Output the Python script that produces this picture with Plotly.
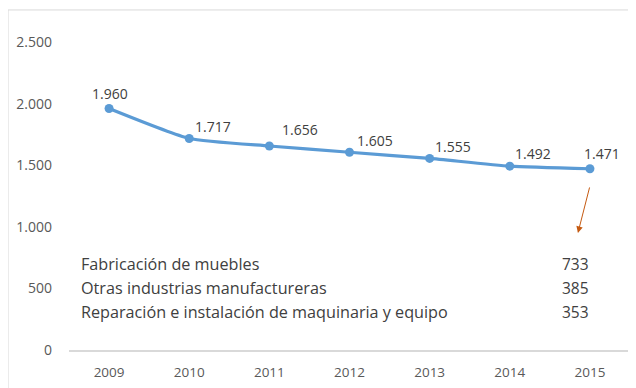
import plotly.graph_objects as go

years = ["2009", "2010", "2011", "2012", "2013", "2014", "2015"]
values = [1960, 1717, 1656, 1605, 1555, 1492, 1471]
value_labels = ["1.960", "1.717", "1.656", "1.605", "1.555", "1.492", "1.471"]
label_xshift = [1, 24, 31, 25, 23, 23, 12]
label_yshift = [15, 12, 16, 12, 12, 13, 15]

sub_names = ["Fabricación de muebles", "Otras industrias manufactureras",
             "Reparación e instalación de maquinaria y equipo"]
sub_values = ["733", "385", "353"]
sub_y = [700, 505, 310]

FONT = "Open Sans"
TXT = "#404040"

fig = go.Figure()
fig.add_trace(go.Scatter(
    x=years, y=values, mode="lines+markers",
    line=dict(color="#5b9bd5", width=3.2, shape="spline", smoothing=0.5),
    marker=dict(color="#5b9bd5", size=9),
    hoverinfo="skip", showlegend=False,
))

for i, (y, t, xs, ys) in enumerate(zip(values, value_labels, label_xshift, label_yshift)):
    fig.add_annotation(x=i, y=y, text=t, showarrow=False, xanchor="center",
                       yanchor="middle", xshift=xs, yshift=ys,
                       font=dict(family=FONT, size=14, color=TXT))

last = len(years) - 1
for name, val, yy in zip(sub_names, sub_values, sub_y):
    fig.add_annotation(x=-0.5, y=yy, xref="x", yref="y", text=name, showarrow=False,
                       xanchor="left", yanchor="middle", xshift=10,
                       font=dict(family=FONT, size=16.2, color=TXT))
    fig.add_annotation(x=last, y=yy, xref="x", yref="y", text=val, showarrow=False,
                       xanchor="right", yanchor="middle", xshift=1,
                       font=dict(family=FONT, size=15.5, color=TXT))

# orange arrow pointing down from 2015 point
fig.add_annotation(x=last, y=950, ax=12, ay=-47,
                   xref="x", yref="y",
                   xshift=-12, showarrow=True, arrowhead=2, arrowsize=1.3,
                   arrowwidth=1, arrowcolor="#c55a11", text="")

# outer light frame
fig.add_shape(type="rect", xref="paper", yref="paper",
              x0=-0.1087, x1=1.05, y0=-0.2, y1=1.104,
              line=dict(color="#d9d9d9", width=1), layer="below")

fig.update_layout(
    width=628, height=380,
    margin=dict(l=61, r=6, t=34, b=38),
    paper_bgcolor="white", plot_bgcolor="white",
    separators=",.",
    font=dict(family=FONT, size=13, color="#595959"),
    showlegend=False,
)
fig.update_xaxes(type="category", showgrid=False, zeroline=False,
                 showline=True, linecolor="#d9d9d9", linewidth=1.5,
                 ticks="", ticklabelstandoff=9,
                 tickfont=dict(family=FONT, size=13.5, color="#595959"),
                 range=[-0.5, 6.5])
fig.update_yaxes(range=[0, 2500], dtick=500, tickformat=",d", showgrid=False,
                 zeroline=False, showline=False, ticks="", ticklabelstandoff=16,
                 tickfont=dict(family=FONT, size=14, color="#595959"))

fig.write_html("out.html")
